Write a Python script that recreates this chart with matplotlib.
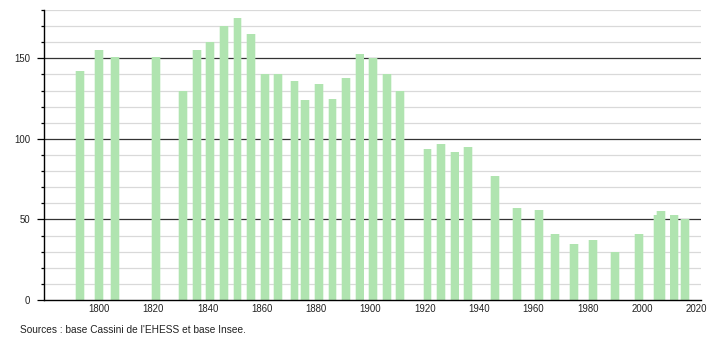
import matplotlib
matplotlib.use("Agg")
import matplotlib.pyplot as plt
from matplotlib.ticker import MultipleLocator

years = [1793, 1800, 1806, 1821, 1831, 1836, 1841, 1846, 1851, 1856, 1861, 1866,
         1872, 1876, 1881, 1886, 1891, 1896, 1901, 1906, 1911, 1921, 1926, 1931,
         1936, 1946, 1954, 1962, 1968, 1975, 1982, 1990, 1999, 2006, 2007, 2012, 2016]
population = [142, 155, 151, 151, 130, 155, 160, 170, 175, 165, 140, 140,
              136, 124, 134, 125, 138, 153, 150, 140, 130, 94, 97, 92,
              95, 77, 57, 56, 41, 35, 37, 30, 41, 53, 55, 53, 50]
x_ticks = [1800, 1820, 1840, 1860, 1880, 1900, 1920, 1940, 1960, 1980, 2000, 2020]
y_major = [0, 50, 100, 150]
source = "Sources : base Cassini de l'EHESS et base Insee."

plt.rcParams['font.family'] = ['Liberation Sans', 'DejaVu Sans']

fig = plt.figure(figsize=(7.1, 3.4), dpi=100)
ax = fig.add_axes([44 / 710, 40 / 340, (701 - 44) / 710, 290 / 340])

ax.set_xlim(1779.7, 2021.8)
ax.set_ylim(0, 180)

# grid lines
for v in range(10, 181, 10):
    if v % 50 == 0:
        ax.axhline(v, color='#333333', lw=0.9, zorder=1)
    else:
        ax.axhline(v, color='#d9d9d9', lw=0.9, zorder=1)

# soft halo + bars
ax.bar(years, population, width=3.6, color='#bdeabd', alpha=0.35, zorder=2, linewidth=0)
ax.bar(years, population, width=2.9, color='#b0e4b0', zorder=3, linewidth=0)

ax.set_xticks(x_ticks)
ax.set_xticklabels([str(t) for t in x_ticks])
ax.set_yticks(y_major)
ax.yaxis.set_minor_locator(MultipleLocator(10))
ax.tick_params(axis='x', length=0, pad=3, labelsize=6.9)
ax.tick_params(axis='y', which='major', length=5, width=0.9, pad=5, labelsize=6.9)
ax.tick_params(axis='y', which='minor', length=2.5, width=0.9)
ax.tick_params(axis='both', labelcolor='#222222')

for s in ['top', 'right']:
    ax.spines[s].set_visible(False)
for s in ['left', 'bottom']:
    ax.spines[s].set_color('black')
    ax.spines[s].set_linewidth(1.0)
    ax.spines[s].set_zorder(5)

fig.text(20 / 710, 1 - 330 / 340, source, fontsize=7.3, color='#222222',
         ha='left', va='center')

fig.savefig("out.png", dpi=100)
